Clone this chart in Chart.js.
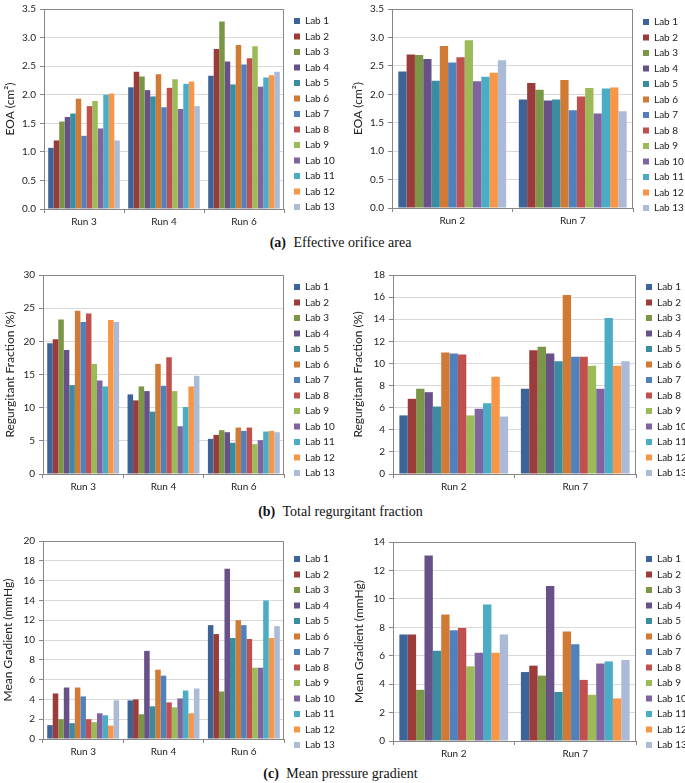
<!DOCTYPE html>
<html>
<head>
<meta charset="utf-8">
<script src="https://cdn.jsdelivr.net/npm/chart.js@4.4.1/dist/chart.umd.min.js"></script>
<style>
body { margin: 0; background: #fff; width: 685px; height: 783px; position: relative; overflow: hidden; }
.box { position: absolute; }
.cap { position: absolute; left: 0; width: 681px; text-align: center; font-family: "Liberation Serif", "Times New Roman", serif; font-size: 14px; line-height: 16px; color: #111; }
.cap b { margin-right: 4px; }
</style>
</head>
<body>
<div class="box" style="left:0;top:-1px;width:345px;height:231px"><canvas id="c1"></canvas></div>
<div class="box" style="left:345px;top:-1px;width:340px;height:231px"><canvas id="c2"></canvas></div>
<div class="cap" style="top:235px"><b>(a)</b> Effective orifice area</div>
<div class="box" style="left:0;top:265px;width:345px;height:231px"><canvas id="c3"></canvas></div>
<div class="box" style="left:345px;top:265px;width:340px;height:231px"><canvas id="c4"></canvas></div>
<div class="cap" style="top:504px"><b>(b)</b> Total regurgitant fraction</div>
<div class="box" style="left:0;top:531px;width:345px;height:229px"><canvas id="c5"></canvas></div>
<div class="box" style="left:345px;top:532px;width:340px;height:230px"><canvas id="c6"></canvas></div>
<div class="cap" style="top:766px"><b>(c)</b> Mean pressure gradient</div>
<script>
const labs = ['Lab 1', 'Lab 2', 'Lab 3', 'Lab 4', 'Lab 5', 'Lab 6', 'Lab 7',
              'Lab 8', 'Lab 9', 'Lab 10', 'Lab 11', 'Lab 12', 'Lab 13'];
const labColors = ['#3C6498', '#9B3C3A', '#7A9646', '#685088', '#3A8CA0', '#D07A36', '#4F81BD',
                   '#C0504D', '#9BBB59', '#8064A2', '#4BACC6', '#F79646', '#AABAD7'];
const runsA = ['Run 3', 'Run 4', 'Run 6'];
const runsB = ['Run 2', 'Run 7'];

// une ligne par labo
const eoaA = [[1.07, 2.13, 2.33], [1.20, 2.40, 2.80], [1.53, 2.32, 3.28], [1.61, 2.08, 2.58],
              [1.67, 1.97, 2.18], [1.93, 2.36, 2.87], [1.28, 1.78, 2.53], [1.80, 2.12, 2.64],
              [1.89, 2.27, 2.85], [1.41, 1.75, 2.14], [2.00, 2.19, 2.30], [2.02, 2.23, 2.34],
              [1.20, 1.80, 2.40]];
const eoaB = [[2.40, 1.91], [2.70, 2.20], [2.69, 2.08], [2.62, 1.89], [2.24, 1.91], [2.85, 2.25],
              [2.56, 1.72], [2.65, 1.96], [2.95, 2.11], [2.23, 1.66], [2.31, 2.10], [2.38, 2.12],
              [2.60, 1.70]];
const rfA = [[19.7, 12.0, 5.3], [20.3, 11.1, 5.9], [23.3, 13.2, 6.6], [18.7, 12.5, 6.3],
             [13.4, 9.4, 4.7], [24.6, 16.6, 7.0], [22.9, 13.3, 6.5], [24.2, 17.6, 7.0],
             [16.6, 12.5, 4.5], [14.1, 7.2, 5.1], [13.2, 10.1, 6.4], [23.2, 13.2, 6.5],
             [22.9, 14.8, 6.3]];
const rfB = [[5.3, 7.7], [6.8, 11.2], [7.7, 11.5], [7.4, 10.9], [6.1, 10.2], [11.0, 16.2],
             [10.9, 10.6], [10.8, 10.6], [5.3, 9.8], [5.9, 7.7], [6.4, 14.1], [8.8, 9.8],
             [5.2, 10.2]];
const mgA = [[1.4, 3.9, 11.5], [4.6, 4.0, 10.6], [2.0, 2.5, 4.8], [5.2, 8.9, 17.2],
             [1.6, 3.3, 10.2], [5.2, 7.0, 12.0], [4.3, 6.4, 11.5], [2.0, 3.7, 10.1],
             [1.7, 3.2, 7.2], [2.6, 4.1, 7.2], [2.4, 4.9, 14.0], [1.35, 2.6, 10.2],
             [3.9, 5.1, 11.4]];
const mgB = [[7.5, 4.85], [7.5, 5.3], [3.6, 4.6], [13.05, 10.9], [6.35, 3.45], [8.9, 7.7],
             [7.8, 6.8], [7.95, 4.3], [5.25, 3.25], [6.2, 5.45], [9.6, 5.6], [6.2, 3.0],
             [7.5, 5.7]];

const FONT = 'Lato, "Open Sans", sans-serif';
const TXT = '#222222';
const AXIS = '#868686';
const LEG_PAD = 5.5;
const LEG_W = 30;
const TITLE_SIZE = 12;

let charts = {};

function makeChart(id, runs, values, opt) {
    const ctx = document.getElementById(id).getContext('2d');
    const padL = opt.titleX - opt.left - TITLE_SIZE * 0.6;
    const yW = opt.plotLeft - opt.left - padL;
    const padR = opt.width - (opt.plotRight - opt.left) - LEG_W;

    const datasets = labs.map((lab, i) => ({
        label: lab,
        data: values[i],
        backgroundColor: labColors[i],
        borderWidth: 0,
        categoryPercentage: 0.895,
        barPercentage: 1.0
    }));

    // place la légende comme dans Excel
    const legendPlace = {
        id: 'legendPlace',
        afterLayout(chart) {
            const lg = chart.legend;
            lg.left = opt.legendX - opt.left - LEG_PAD;
            lg.width = 80;
            lg.right = lg.left + lg.width;
            lg.top = opt.legendY - opt.top - 5 - LEG_PAD;
            lg.height = 13 * (10 + LEG_PAD) + LEG_PAD + 20;
            lg.bottom = lg.top + lg.height;
        }
    };

    // cadre de la zone de tracé (haut et droite)
    const plotFrame = {
        id: 'plotFrame',
        afterDraw(chart) {
            const a = chart.chartArea;
            const c = chart.ctx;
            c.save();
            c.strokeStyle = AXIS;
            c.lineWidth = 1;
            c.beginPath();
            c.moveTo(Math.round(a.left) + 0.5, Math.round(a.top) + 0.5);
            c.lineTo(Math.round(a.right) - 0.5, Math.round(a.top) + 0.5);
            c.lineTo(Math.round(a.right) - 0.5, Math.round(a.bottom));
            c.stroke();
            c.restore();
        }
    };

    charts[id] = new Chart(ctx, {
        type: 'bar',
        data: { labels: runs, datasets: datasets },
        plugins: [legendPlace, plotFrame],
        options: {
            responsive: true,
            maintainAspectRatio: false,
            animation: false,
            layout: { padding: { left: padL, right: padR, top: 0, bottom: 0 } },
            plugins: {
                legend: {
                    position: 'right',
                    align: 'start',
                    maxWidth: LEG_W,
                    labels: {
                        boxWidth: 6,
                        boxHeight: 6,
                        padding: LEG_PAD,
                        color: TXT,
                        font: { family: FONT, size: 10 }
                    }
                },
                tooltip: { enabled: false }
            },
            scales: {
                y: {
                    min: 0,
                    max: opt.yMax,
                    ticks: {
                        stepSize: opt.yStep,
                        color: TXT,
                        padding: 4,
                        font: { family: FONT, size: 10 },
                        callback: function(value) {
                            return value.toFixed(opt.dec);
                        }
                    },
                    grid: { color: '#D9D9D9', tickColor: AXIS, tickLength: 4 },
                    border: { color: AXIS },
                    title: {
                        display: true,
                        text: opt.title,
                        color: TXT,
                        padding: 0,
                        font: { family: FONT, size: TITLE_SIZE }
                    },
                    afterFit: function(scale) { scale.width = yW; }
                },
                x: {
                    grid: { drawOnChartArea: false, color: AXIS, tickLength: 4, offset: true },
                    border: { color: AXIS },
                    ticks: { color: TXT, padding: 3, font: { family: FONT, size: 10 } },
                    afterFit: function(scale) { scale.height = opt.xh; }
                }
            }
        }
    });
}

makeChart('c1', runsA, eoaA, { left: 0, top: -1, width: 345, plotLeft: 44, plotRight: 284, titleX: 10,
    xh: 21, yMax: 3.5, yStep: 0.5, dec: 1, title: 'EOA (cm²)', legendX: 294, legendY: 21 });
makeChart('c2', runsB, eoaB, { left: 345, top: -1, width: 340, plotLeft: 392, plotRight: 633, titleX: 358,
    xh: 22, yMax: 3.5, yStep: 0.5, dec: 1, title: 'EOA (cm²)', legendX: 643, legendY: 22 });
makeChart('c3', runsA, rfA, { left: 0, top: 265, width: 345, plotLeft: 43, plotRight: 284, titleX: 10,
    xh: 22, yMax: 30, yStep: 5, dec: 0, title: 'Regurgitant Fraction (%)', legendX: 294, legendY: 287 });
makeChart('c4', runsB, rfB, { left: 345, top: 265, width: 340, plotLeft: 393, plotRight: 636, titleX: 358,
    xh: 22, yMax: 18, yStep: 2, dec: 0, title: 'Regurgitant Fraction (%)', legendX: 646, legendY: 287 });
makeChart('c5', runsA, mgA, { left: 0, top: 531, width: 345, plotLeft: 43, plotRight: 284, titleX: 8,
    xh: 21, yMax: 20, yStep: 2, dec: 0, title: 'Mean Gradient (mmHg)', legendX: 294, legendY: 559 });
makeChart('c6', runsB, mgB, { left: 345, top: 532, width: 340, plotLeft: 393, plotRight: 636, titleX: 359,
    xh: 21, yMax: 14, yStep: 2, dec: 0, title: 'Mean Gradient (mmHg)', legendX: 646, legendY: 559 });
</script>
</body>
</html>
